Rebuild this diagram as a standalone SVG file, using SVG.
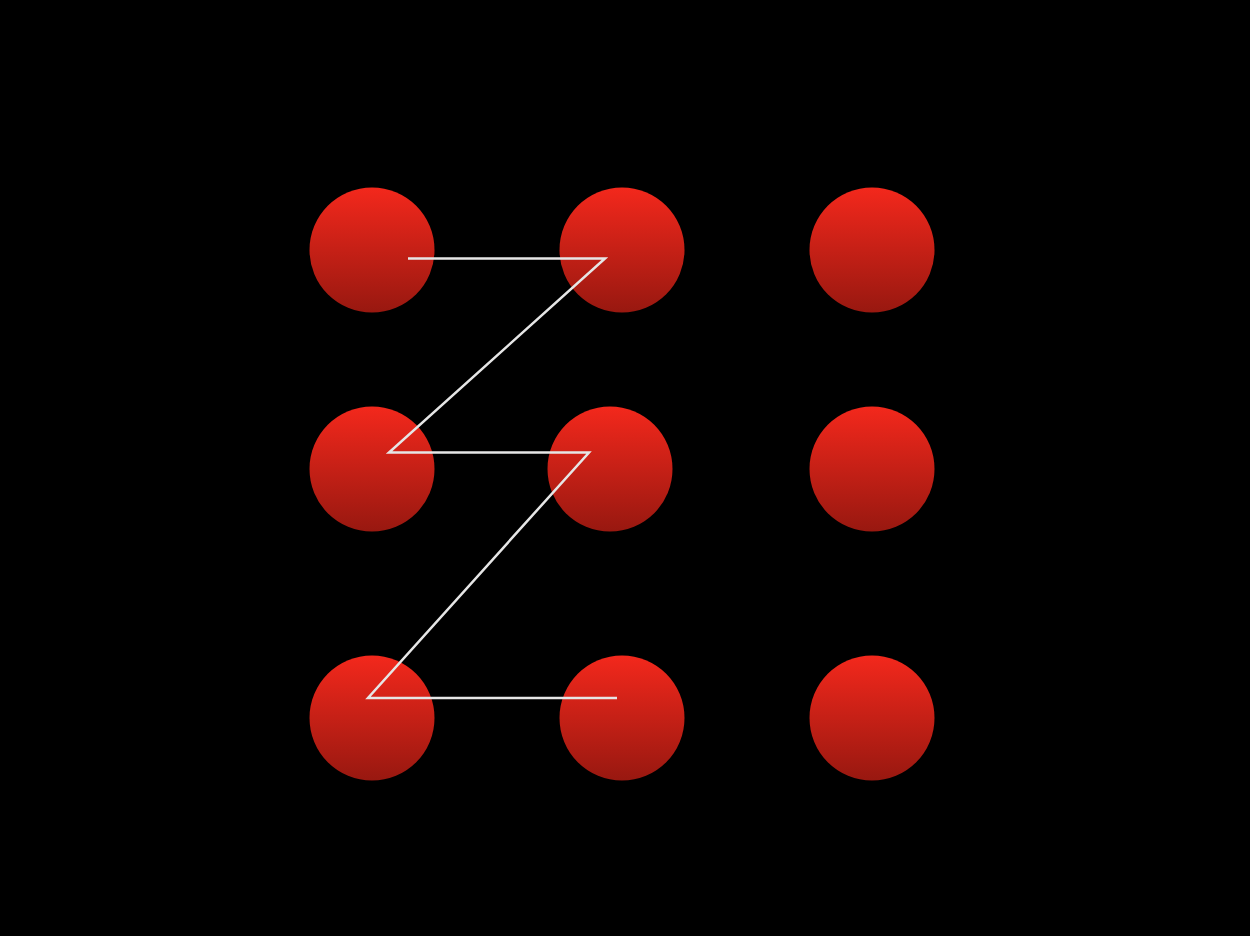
<svg xmlns="http://www.w3.org/2000/svg" width="1250" height="936" viewBox="0 0 1250 936">
<defs>
<linearGradient id="g" x1="0" y1="0" x2="0" y2="1">
<stop offset="0" stop-color="#f3281c"/>
<stop offset="1" stop-color="#981810"/>
</linearGradient>
<style>
.dot{fill:url(#g)}
.ln{fill:none;stroke:#e6e6e6;stroke-width:2.5;stroke-linejoin:miter}
</style>
</defs>
<rect width="1250" height="936" fill="#000"/>
<g id="n1"><circle class="dot" cx="372" cy="250" r="62.5"/></g>
<g id="n2"><circle class="dot" cx="622" cy="250" r="62.5"/></g>
<g id="n3"><circle class="dot" cx="872" cy="250" r="62.5"/></g>
<g id="n4"><circle class="dot" cx="372" cy="469" r="62.5"/></g>
<g id="n5"><circle class="dot" cx="610" cy="469" r="62.5"/></g>
<g id="n6"><circle class="dot" cx="872" cy="469" r="62.5"/></g>
<g id="n7"><circle class="dot" cx="372" cy="718" r="62.5"/></g>
<g id="n8"><circle class="dot" cx="622" cy="718" r="62.5"/></g>
<g id="n9"><circle class="dot" cx="872" cy="718" r="62.5"/></g>
<g id="connectors">
<polyline class="ln" points="408,258.5 605,258.5 389,452.5 589,452.5 368,698 617,698"/>
</g>
</svg>
